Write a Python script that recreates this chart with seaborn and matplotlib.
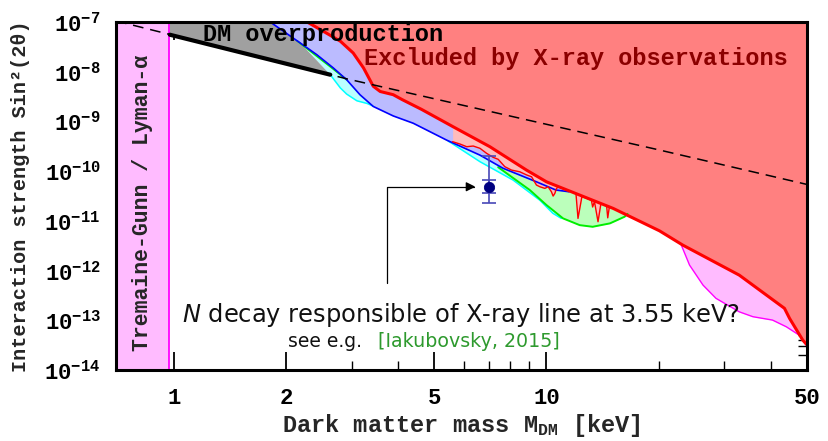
import matplotlib
matplotlib.use("Agg")
import matplotlib.pyplot as plt
import seaborn as sns
from matplotlib.ticker import FixedLocator, NullFormatter, LogLocator

# ---------------- curves: mass [keV] vs sin^2(2 theta) ----------------
tg_mass = 0.974                      # Tremaine-Gunn / Lyman-alpha bound

overprod_x = [0.976, 2.63]           # DM overproduction boundary (thick black)
overprod_y = [5.55e-8, 8.7e-9]

blue_x = [1.815, 2.185, 2.42, 2.68, 2.91, 3.16, 3.43, 3.88, 4.39, 5.40, 6.63, 7.65, 9.40, 10.6, 11.5]
blue_y = [1.0e-7, 3.78e-8, 2.2e-8, 1.19e-8, 6.9e-9, 3.44e-9, 2.0e-9, 1.29e-9, 9.2e-10,
          4.2e-10, 2.1e-10, 1.14e-10, 6.1e-11, 4.17e-11, 3.85e-11]

red_x = [2.28, 2.52, 2.80, 3.03, 3.23, 3.43, 3.58, 3.88, 4.10, 4.62, 5.62, 7.05, 8.84, 10.0,
         12.28, 15.1, 17.8, 20.1, 23.2, 32.9, 43.5, 44.9, 48.7, 50.0]
red_y = [1.0e-7, 6.5e-8, 4.1e-8, 2.38e-8, 1.19e-8, 5.1e-9, 4.0e-9, 3.45e-9, 2.75e-9, 1.75e-9,
         7.8e-10, 3.1e-10, 1.05e-10, 6.1e-11, 3.3e-11, 1.78e-11, 9.8e-12, 6.3e-12, 3.26e-12,
         8.1e-13, 1.74e-13, 1.09e-13, 4.0e-14, 3.2e-14]

wiggle_x = [5.60, 5.86, 6.11, 6.36, 6.63, 6.91, 7.19, 7.42, 7.73, 8.06, 8.48, 8.84, 9.12,
            9.40, 9.60, 9.90, 10.10, 10.31, 10.42, 10.53, 10.64, 10.8]
wiggle_y = [3.91e-10, 3.51e-10, 3.10e-10, 3.20e-10, 2.88e-10, 2.28e-10, 1.90e-10, 1.73e-10,
            1.23e-10, 1.05e-10, 9.7e-11, 8.4e-11, 7.7e-11, 5.25e-11, 4.85e-11, 4.5e-11,
            4.85e-11, 3.85e-11, 3.15e-11, 3.57e-11, 4.5e-11, 4.9e-11]

spike_x = [12.0, 12.15, 12.45, 13.2, 13.3, 13.45, 13.75, 14.0, 14.5, 14.6, 14.75]
spike_y = [3.5e-11, 1.12e-11, 3.1e-11, 2.6e-11, 1.9e-11, 2.45e-11, 9.6e-12, 2.24e-11,
           2.0e-11, 1.15e-11, 1.92e-11]

cyan1_x = [2.185, 2.63, 2.80, 2.91, 3.10, 3.30, 3.42]
cyan1_y = [3.78e-8, 8.7e-9, 4.7e-9, 3.55e-9, 2.6e-9, 2.3e-9, 2.05e-9]

green1_x = [2.14, 2.63, 2.91]
green1_y = [4.2e-8, 1.26e-8, 6.9e-9]

cyan2_x = [5.45, 5.57, 6.63, 8.14, 9.60, 10.4, 10.96]
cyan2_y = [4.0e-10, 3.63e-10, 1.55e-10, 6.6e-11, 2.6e-11, 1.42e-11, 1.12e-11]

green2_x = [7.42, 9.02, 10.0, 11.08, 12.28, 13.3, 14.8, 16.2, 16.5]
green2_y = [1.2e-10, 4.17e-11, 2.08e-11, 1.12e-11, 8.2e-12, 7.6e-12, 8.9e-12, 1.21e-11, 1.38e-11]

magenta_x = [23.0, 24.2, 26.3, 28.5, 32.9, 35.8, 40.4, 44.0, 47.7, 49.4, 50.0]
magenta_y = [3.26e-12, 1.29e-12, 5.1e-13, 2.76e-13, 1.48e-13, 1.18e-13, 1.01e-13, 7.4e-14,
             5.0e-14, 3.4e-14, 3.0e-14]

dashed_x = [0.70, 2.91, 20.1, 50.0]
dashed_y = [1.05e-7, 7.2e-9, 2.66e-10, 5.4e-11]

# 3.55 keV line candidate
line_mass = [7.0]
line_mix = [4.85e-11]
err_outer = ([line_mix[0] - 2.25e-11], [2.04e-10 - line_mix[0]])
err_inner = ([line_mix[0] - 3.68e-11], [6.6e-11 - line_mix[0]])

xtick_vals = [1, 2, 5, 10, 50]
xtick_labels = ["1", "2", "5", "10", "50"]
xminor_vals = [0.8, 0.9, 3, 4, 6, 7, 8, 9, 20, 30, 40]
ytick_vals = [1e-14, 1e-13, 1e-12, 1e-11, 1e-10, 1e-9, 1e-8, 1e-7]
ytick_labels = [r"$10^{-14}$", r"$10^{-13}$", r"$10^{-12}$", r"$10^{-11}$",
                r"$10^{-10}$", r"$10^{-9}$", r"$10^{-8}$", r"$10^{-7}$"]

XMIN, XMAX = 0.7, 50.0
YMIN, YMAX = 1e-14, 1e-7

# ---------------- style ----------------
sns.set_style("ticks")
plt.rcParams["font.family"] = ["Liberation Mono", "DejaVu Sans Mono"]
plt.rcParams["font.weight"] = "bold"
plt.rcParams["mathtext.fontset"] = "custom"
plt.rcParams["mathtext.rm"] = "Liberation Mono:bold"
plt.rcParams["mathtext.bf"] = "Liberation Mono:bold"
plt.rcParams["mathtext.it"] = "DejaVu Sans:italic:regular"
plt.rcParams["mathtext.default"] = "rm"

MONO = dict(family=["Liberation Mono", "DejaVu Sans Mono"], weight="bold")
SANS = dict(family="DejaVu Sans", weight="normal")

fig = plt.figure(figsize=(8.29, 4.41), dpi=100)
ax = fig.add_axes([116 / 829, 1 - 370 / 441, (807 - 116) / 829, (370 - 22) / 441])
ax.set_xscale("log")
ax.set_yscale("log")
ax.set_xlim(XMIN, XMAX)
ax.set_ylim(YMIN, YMAX)

# ---------------- filled regions ----------------
ax.fill_between(cyan1_x, cyan1_y, YMAX, color="#BBFFFF", lw=0, zorder=1)
ax.fill_between(cyan2_x, cyan2_y, YMAX, color="#BBFFFF", lw=0, zorder=1)
ax.fill_between(green1_x, green1_y, YMAX, color="#BBFFBB", lw=0, zorder=1.1)
ax.fill_between(green2_x, green2_y, YMAX, color="#BBFFBB", lw=0, zorder=1.1)
ax.fill_between(blue_x, blue_y, YMAX, color="#BBBBFF", lw=0, zorder=1.2)
ax.fill_between(wiggle_x, wiggle_y, YMAX, color="#FFBBBB", lw=0, zorder=1.3)
ax.fill_between(spike_x, spike_y, YMAX, color="#FFBBBB", lw=0, zorder=1.3)
ax.fill_between(magenta_x, magenta_y, YMAX, color="#FFBBFF", lw=0, zorder=1.3)
ax.fill_between(red_x, red_y, YMAX, color="#FF8080", lw=0, zorder=1.4)

# DM overproduction wedge: top edge, blue boundary, cyan edge, thick black line
gray_x = [overprod_x[0], blue_x[0], blue_x[1], cyan1_x[1], overprod_x[0]]
gray_y = [YMAX, blue_y[0], blue_y[1], cyan1_y[1], overprod_y[0]]
ax.fill(gray_x, gray_y, color="#A0A0A0", lw=0, zorder=1.5)

# Tremaine-Gunn / Lyman-alpha band
ax.axvspan(XMIN, tg_mass, color="#FFBBFF", lw=0, zorder=1.6)
ax.axvline(tg_mass, color="#FF00FF", lw=1.3, zorder=2)

# ---------------- boundary lines ----------------
def curve(xs, ys, color, lw, z=3):
    sns.lineplot(x=xs, y=ys, ax=ax, color=color, lw=lw, sort=False,
                 estimator=None, zorder=z)

curve(cyan1_x[1:], cyan1_y[1:], "#00FFFF", 1.1)
curve(cyan2_x, cyan2_y, "#00FFFF", 1.1)
curve(green1_x, green1_y, "#00EE00", 1.2)
curve(green2_x, green2_y, "#00EE00", 1.4)
curve(blue_x, blue_y, "#0000FF", 1.2, z=3.1)
curve(wiggle_x, wiggle_y, "#FF0000", 1.0, z=3.2)
curve(spike_x, spike_y, "#FF0000", 1.0, z=3.2)
curve(magenta_x, magenta_y, "#FF00FF", 1.0, z=3.2)
curve(red_x, red_y, "#FF0000", 2.2, z=3.3)
curve(overprod_x, overprod_y, "black", 3.0, z=3.4)
sns.lineplot(x=dashed_x, y=dashed_y, ax=ax, color="black", lw=1.1, sort=False,
             estimator=None, zorder=3.5, dashes=False)
ax.lines[-1].set_dashes([7, 4.5])

# ---------------- 3.55 keV candidate ----------------
ax.errorbar(line_mass, line_mix, yerr=err_outer, fmt="none", ecolor="#4848B8",
            elinewidth=1.2, capsize=5, capthick=1.2, zorder=4)
ax.errorbar(line_mass, line_mix, yerr=err_inner, fmt="none", ecolor="#4848B8",
            elinewidth=1.2, capsize=5, capthick=1.2, zorder=4)
sns.scatterplot(x=line_mass, y=line_mix, ax=ax, color="#000080", s=55,
                edgecolor="#000080", zorder=5)

ax.annotate("", xy=(6.45, line_mix[0]), xytext=(3.73, 5.6e-13),
            arrowprops=dict(arrowstyle="-|>", color="black", lw=0.9,
                            shrinkA=0, shrinkB=0, mutation_scale=14,
                            connectionstyle="angle,angleA=90,angleB=0,rad=0"),
            zorder=4)

# ---------------- labels inside the plot ----------------
ax.text(1.20, 4.15e-8, "DM overproduction", fontsize=17, color="black",
        ha="left", va="baseline", zorder=6, **MONO)
ax.text(3.23, 1.36e-8, "Excluded by X-ray observations", fontsize=17,
        color="#8B0000", ha="left", va="baseline", zorder=6, **MONO)
ax.text(0.827, 2.3e-11, "Tremaine-Gunn / Lyman-α", fontsize=15.5, rotation=90,
        ha="center", va="center", zorder=6, **MONO)

ax.text(1.053, 9.3e-14, r"$\mathit{N}$ decay responsible of X-ray line at 3.55 keV?",
        fontsize=17.4, color="#111111", ha="left", va="baseline", zorder=6, **SANS)
ax.text(2.03, 2.93e-14, "see e.g.", fontsize=13.5, color="#111111",
        ha="left", va="baseline", zorder=6, **SANS)
ax.text(3.54, 2.93e-14, "[Iakubovsky, 2015]", fontsize=13.7, color="#2E9A2E",
        ha="left", va="baseline", zorder=6, **SANS)

# ---------------- axes ----------------
ax.xaxis.set_major_locator(FixedLocator(xtick_vals))
ax.set_xticklabels(xtick_labels)
ax.xaxis.set_minor_locator(FixedLocator(xminor_vals))
ax.xaxis.set_minor_formatter(NullFormatter())
ax.yaxis.set_major_locator(FixedLocator(ytick_vals))
ax.set_yticklabels(ytick_labels)
ax.yaxis.set_minor_locator(LogLocator(base=10, subs=range(2, 10), numticks=50))
ax.yaxis.set_minor_formatter(NullFormatter())

ax.tick_params(which="both", direction="in", top=True, right=True, colors="black")
ax.tick_params(which="major", length=13, width=1.3, labelsize=16, pad=11)
ax.tick_params(axis="x", which="major", pad=13)
ax.tick_params(which="minor", length=6.5, width=1.0)
for lab in ax.get_xticklabels() + ax.get_yticklabels():
    lab.set_fontweight("bold")

for sp in ax.spines.values():
    sp.set_linewidth(2.2)
    sp.set_color("black")
    sp.set_zorder(10)

ax.set_xlabel(r"Dark matter mass M$_{\mathrm{DM}}$ [keV]", fontsize=17, labelpad=2, **MONO)
ax.set_ylabel("Interaction strength Sin²(2θ)", fontsize=14.5, labelpad=10, **MONO)

fig.savefig("out.png", dpi=100)
